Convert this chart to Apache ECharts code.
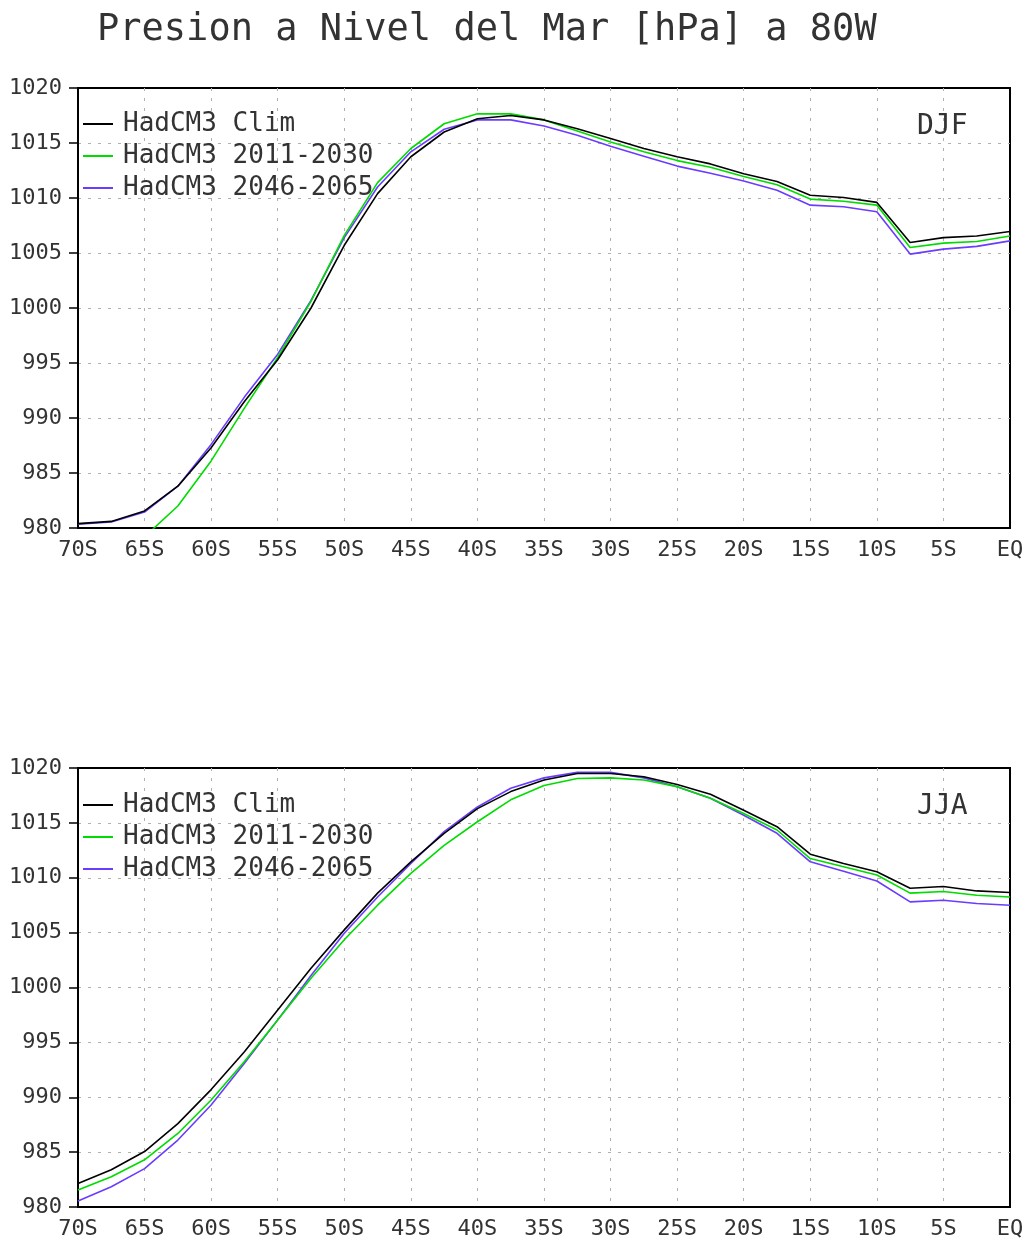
<!DOCTYPE html>
<html>
<head>
<meta charset="utf-8">
<script src="https://cdn.jsdelivr.net/npm/echarts@6/dist/echarts.min.js"></script>
<style>
html,body{margin:0;padding:0;background:#fff;}
#chart{width:1027px;height:1243px;}
</style>
</head>
<body>
<div id="chart"></div>
<script>
// Latitudes (negative = South), 2.5 degree grid
const lats = [-70, -67.5, -65, -62.5, -60, -57.5, -55, -52.5, -50, -47.5, -45, -42.5, -40, -37.5, -35, -32.5, -30, -27.5, -25, -22.5, -20, -17.5, -15, -12.5, -10, -7.5, -5, -2.5, 0];
const xTickLabels = ['70S','65S','60S','55S','50S','45S','40S','35S','30S','25S','20S','15S','10S','5S','EQ'];
const yTickLabels = ['980','985','990','995','1000','1005','1010','1015','1020'];
const seriesNames = ['HadCM3 Clim', 'HadCM3 2011-2030', 'HadCM3 2046-2065'];
const seasonLabels = ['DJF', 'JJA'];
const titleText = 'Presion a Nivel del Mar [hPa] a 80W';

// DJF sea level pressure (hPa)
const djfClim = [980.4, 980.6, 981.55, 983.8, 987.3, 991.5, 995.3, 1000.0, 1005.7, 1010.4, 1013.75, 1016.0, 1017.2, 1017.5, 1017.1, 1016.3, 1015.4, 1014.5, 1013.75, 1013.1, 1012.2, 1011.5, 1010.25, 1010.05, 1009.6, 1005.95, 1006.4, 1006.55, 1006.95];
const djf2011 = [976.5, 977.8, 979.2, 982.0, 986.1, 990.9, 995.5, 1000.6, 1006.6, 1011.4, 1014.5, 1016.75, 1017.65, 1017.65, 1017.1, 1016.1, 1015.1, 1014.2, 1013.4, 1012.8, 1011.95, 1011.2, 1009.9, 1009.7, 1009.35, 1005.5, 1005.9, 1006.05, 1006.55];
const djf2046 = [980.35, 980.55, 981.45, 983.8, 987.6, 991.9, 995.8, 1000.7, 1006.4, 1011.0, 1014.2, 1016.25, 1017.1, 1017.1, 1016.55, 1015.7, 1014.7, 1013.8, 1012.9, 1012.25, 1011.55, 1010.7, 1009.35, 1009.2, 1008.75, 1004.9, 1005.35, 1005.6, 1006.1];

// JJA sea level pressure (hPa)
const jjaClim = [982.15, 983.4, 985.05, 987.6, 990.7, 994.15, 997.95, 1001.75, 1005.25, 1008.6, 1011.45, 1014.05, 1016.3, 1017.85, 1018.9, 1019.5, 1019.5, 1019.2, 1018.5, 1017.6, 1016.15, 1014.65, 1012.15, 1011.3, 1010.55, 1009.05, 1009.2, 1008.8, 1008.65];
const jja2011 = [981.55, 982.75, 984.3, 986.7, 989.75, 993.25, 997.05, 1000.85, 1004.35, 1007.5, 1010.4, 1012.95, 1015.1, 1017.1, 1018.4, 1019.05, 1019.1, 1018.9, 1018.3, 1017.25, 1015.85, 1014.35, 1011.75, 1011.0, 1010.25, 1008.6, 1008.75, 1008.4, 1008.25];
const jja2046 = [980.55, 981.85, 983.5, 986.1, 989.3, 993.1, 997.05, 1001.1, 1004.95, 1008.25, 1011.3, 1014.2, 1016.45, 1018.15, 1019.1, 1019.6, 1019.6, 1019.1, 1018.3, 1017.25, 1015.7, 1014.05, 1011.45, 1010.6, 1009.7, 1007.8, 1007.95, 1007.65, 1007.5];

const colors = ['#000000', '#00dc00', '#6a3cff'];
const FONT = 'DejaVu Sans Mono';
const TXT = '#333333';

function pairs(vals){ return lats.map((l,i)=>[l, vals[i]]); }

const grids = [
  {left: 78, top: 88, width: 932, height: 440},
  {left: 78, top: 768, width: 932, height: 439}
];

const splitStyle = {color: '#b0b0b0', type: [3, 7], width: 1};

function xAxisFor(gi){
  return {
    type: 'value', gridIndex: gi, min: -70, max: 0, interval: 5,
    axisLine: {show: true, onZero: false, lineStyle: {color: '#000', width: 2}},
    axisTick: {show: false},
    axisLabel: {
      margin: 11, color: TXT, fontFamily: FONT, fontSize: 22,
      formatter: v => xTickLabels[Math.round((v + 70) / 5)]
    },
    splitLine: {show: true, showMinLine: false, showMaxLine: false, lineStyle: splitStyle}
  };
}
function yAxisFor(gi){
  return {
    type: 'value', gridIndex: gi, min: 980, max: 1020, interval: 5,
    axisLine: {show: true, onZero: false, lineStyle: {color: '#000', width: 2}},
    axisTick: {show: true, inside: false, length: 9, lineStyle: {color: '#000', width: 1.5}},
    axisLabel: {
      margin: 16, color: TXT, fontFamily: FONT, fontSize: 22,
      formatter: v => yTickLabels[Math.round((v - 980) / 5)]
    },
    splitLine: {show: true, showMinLine: false, showMaxLine: false, lineStyle: splitStyle}
  };
}

const allData = [[djfClim, djf2011, djf2046], [jjaClim, jja2011, jja2046]];
const series = [];
allData.forEach((set, gi) => {
  set.forEach((vals, si) => {
    series.push({
      type: 'line', name: seriesNames[si], xAxisIndex: gi, yAxisIndex: gi,
      data: pairs(vals), symbol: 'none', clip: true,
      lineStyle: {color: colors[si], width: 1.6},
      itemStyle: {color: colors[si]},
      z: 3 - si
    });
  });
});

function legendFor(top){
  return {
    show: true, orient: 'vertical', left: 78, top: top,
    data: seriesNames, icon: 'rect', itemWidth: 30, itemHeight: 2, itemGap: 6,
    selectedMode: false,
    textStyle: {color: TXT, fontFamily: FONT, fontSize: 26, lineHeight: 26, padding: [0, 0, 0, 5]}
  };
}

const option = {
  animation: false,
  backgroundColor: '#fff',
  title: {
    text: titleText, left: 92, top: 7,
    textStyle: {color: TXT, fontFamily: FONT, fontSize: 37, fontWeight: 'normal'}
  },
  grid: grids.map(g => Object.assign({show: true, borderColor: '#000', borderWidth: 2, backgroundColor: 'transparent', containLabel: false, outerBoundsMode: 'none'}, g)),
  xAxis: [xAxisFor(0), xAxisFor(1)],
  yAxis: [yAxisFor(0), yAxisFor(1)],
  legend: [legendFor(106), legendFor(787)],
  graphic: [
    {type: 'text', left: 917, top: 113, style: {text: seasonLabels[0], fill: TXT, font: '28px "DejaVu Sans Mono"'}},
    {type: 'text', left: 917, top: 793, style: {text: seasonLabels[1], fill: TXT, font: '28px "DejaVu Sans Mono"'}}
  ],
  series: series
};

const chart = echarts.init(document.getElementById('chart'), null, {renderer: 'canvas'});
chart.setOption(option);
</script>
</body>
</html>
